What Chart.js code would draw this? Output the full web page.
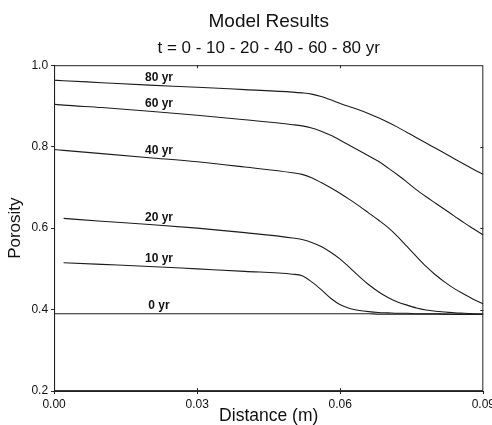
<!DOCTYPE html>
<html>
<head>
<meta charset="utf-8">
<script src="https://cdn.jsdelivr.net/npm/chart.js@4.4.1/dist/chart.umd.min.js"></script>
<style>
  html, body { margin: 0; padding: 0; background: #fff; overflow: hidden; }
  #wrap { width: 498px; height: 425px; }
</style>
</head>
<body>
<div id="wrap"><canvas id="chart"></canvas></div>
<script>
// distance along the sample (m)
const distance = [0.000, 0.002, 0.010, 0.020, 0.030, 0.040, 0.050, 0.052, 0.054, 0.056,
  0.058, 0.060, 0.062, 0.064, 0.066, 0.068, 0.070, 0.072, 0.074, 0.076, 0.078, 0.080,
  0.082, 0.084, 0.086, 0.088, 0.090];

const porosity0 = [0.390, 0.390, 0.390, 0.390, 0.390, 0.390, 0.390, 0.390, 0.390, 0.390,
  0.390, 0.390, 0.390, 0.390, 0.390, 0.389, 0.389, 0.389, 0.389, 0.389, 0.389, 0.389,
  0.389, 0.388, 0.388, 0.388, 0.388];
const porosity10 = [null, 0.515, 0.511, 0.506, 0.500, 0.494, 0.487, 0.483, 0.468, 0.449,
  0.428, 0.412, 0.403, 0.398, 0.395, 0.393, 0.392, 0.391, 0.391, 0.390, 0.390, 0.390,
  0.389, 0.389, 0.389, 0.389, 0.389];
const porosity20 = [null, 0.624, 0.617, 0.609, 0.600, 0.589, 0.576, 0.572, 0.565, 0.555,
  0.541, 0.524, 0.503, 0.481, 0.461, 0.444, 0.430, 0.419, 0.411, 0.404, 0.399, 0.396,
  0.394, 0.392, 0.391, 0.390, 0.389];
const porosity40 = [0.793, 0.791, 0.783, 0.773, 0.763, 0.750, 0.736, 0.732, 0.724, 0.712,
  0.699, 0.685, 0.670, 0.654, 0.637, 0.620, 0.602, 0.580, 0.555, 0.530, 0.506, 0.485,
  0.467, 0.451, 0.438, 0.425, 0.414];
const porosity60 = [0.904, 0.902, 0.896, 0.887, 0.877, 0.866, 0.854, 0.851, 0.846, 0.838,
  0.828, 0.816, 0.803, 0.790, 0.777, 0.764, 0.748, 0.731, 0.713, 0.694, 0.677, 0.661,
  0.645, 0.629, 0.613, 0.598, 0.583];
const porosity80 = [0.963, 0.962, 0.957, 0.951, 0.946, 0.940, 0.934, 0.932, 0.929, 0.923,
  0.915, 0.906, 0.898, 0.890, 0.881, 0.871, 0.860, 0.848, 0.835, 0.822, 0.809, 0.796,
  0.783, 0.770, 0.757, 0.744, 0.732];

const seriesLabels = ['0 yr', '10 yr', '20 yr', '40 yr', '60 yr', '80 yr'];
const seriesValues = [porosity0, porosity10, porosity20, porosity40, porosity60, porosity80];
const xTicks = [0, 0.03, 0.06, 0.09];
const yTicks = [0.2, 0.4, 0.6, 0.8, 1.0];
const labelAt = 0.022;

const FONT = 'Liberation Sans, Arial, Helvetica, sans-serif';

function toPoints(values) {
  return distance.map((d, i) => ({ x: d, y: values[i] }));
}

function valueAt(values, x) {
  for (let i = 1; i < distance.length; i++) {
    if (distance[i] >= x && values[i - 1] != null) {
      const t = (x - distance[i - 1]) / (distance[i] - distance[i - 1]);
      return values[i - 1] + t * (values[i] - values[i - 1]);
    }
  }
  return null;
}

// curve labels ("80 yr" etc.) sitting just above each line
const curveLabels = {
  id: 'curveLabels',
  afterDatasetsDraw(chart) {
    const { ctx, scales } = chart;
    ctx.save();
    ctx.font = `bold 12px ${FONT}`;
    ctx.fillStyle = '#111';
    ctx.textAlign = 'center';
    ctx.textBaseline = 'bottom';
    seriesValues.forEach((values, i) => {
      const v = valueAt(values, labelAt);
      if (v == null) return;
      const px = scales.x.getPixelForValue(labelAt);
      const py = scales.y.getPixelForValue(v);
      ctx.fillText(seriesLabels[i], px, py - 2);
    });
    ctx.restore();
  },
};

// closed frame round the plot, with small inward ticks on top and right
const frame = {
  id: 'frame',
  afterDraw(chart) {
    const { ctx, chartArea: a, scales } = chart;
    ctx.save();
    ctx.strokeStyle = '#222';
    ctx.lineWidth = 1;
    ctx.strokeRect(a.left + 0.5, a.top + 0.5, a.right - a.left - 1, a.bottom - a.top - 1);
    ctx.beginPath();
    xTicks.slice(1, -1).forEach((v) => {
      const px = Math.round(scales.x.getPixelForValue(v)) + 0.5;
      ctx.moveTo(px, a.top); ctx.lineTo(px, a.top + 3);
      ctx.moveTo(px, a.bottom); ctx.lineTo(px, a.bottom - 3);
    });
    yTicks.slice(1, -1).forEach((v) => {
      const py = Math.round(scales.y.getPixelForValue(v)) + 0.5;
      ctx.moveTo(a.right, py); ctx.lineTo(a.right - 3, py);
    });
    ctx.stroke();
    ctx.restore();
  },
};

new Chart(document.getElementById('chart'), {
  type: 'line',
  data: {
    datasets: seriesValues.map((values, i) => ({
      label: seriesLabels[i],
      data: toPoints(values),
      borderColor: '#1c1c1c',
      borderWidth: 1.1,
      pointRadius: 0,
      cubicInterpolationMode: 'monotone',
      spanGaps: false,
    })),
  },
  options: {
    responsive: true,
    maintainAspectRatio: false,
    animation: false,
    layout: { padding: { top: 6, left: 5, right: 0, bottom: 0 } },
    plugins: {
      legend: { display: false },
      tooltip: { enabled: false },
      title: {
        display: true,
        text: 'Model Results',
        fullSize: false,
        color: '#111',
        font: { family: FONT, size: 19, weight: 'normal' },
        padding: { top: 4, bottom: 5 },
      },
      subtitle: {
        display: true,
        text: 't = 0 - 10 - 20 - 40 - 60 - 80 yr',
        fullSize: false,
        color: '#111',
        font: { family: FONT, size: 17, weight: 'normal' },
        padding: { top: 0, bottom: 7 },
      },
    },
    scales: {
      x: {
        type: 'linear',
        min: 0,
        max: 0.09,
        afterBuildTicks(axis) { axis.ticks = xTicks.map((v) => ({ value: v })); },
        ticks: {
          color: '#111',
          font: { family: FONT, size: 12 },
          padding: 3,
          maxRotation: 0,
          callback: (v) => Number(v).toFixed(2),
        },
        grid: { drawOnChartArea: false, tickLength: 3, color: '#222' },
        border: { color: '#222' },
        title: {
          display: true,
          text: 'Distance (m)',
          color: '#111',
          font: { family: FONT, size: 17.5, lineHeight: 1 },
          padding: { top: -7, bottom: 0 },
        },
      },
      y: {
        min: 0.2,
        max: 1.0,
        afterBuildTicks(axis) { axis.ticks = yTicks.map((v) => ({ value: v })); },
        ticks: {
          color: '#111',
          font: { family: FONT, size: 12 },
          padding: 3,
          callback: (v) => Number(v).toFixed(1),
        },
        grid: { drawOnChartArea: false, tickLength: 3, color: '#222' },
        border: { color: '#222' },
        title: {
          display: true,
          text: 'Porosity',
          color: '#111',
          font: { family: FONT, size: 17 },
          padding: { top: 0, bottom: 3 },
        },
      },
    },
  },
  plugins: [curveLabels, frame],
});
</script>
</body>
</html>
